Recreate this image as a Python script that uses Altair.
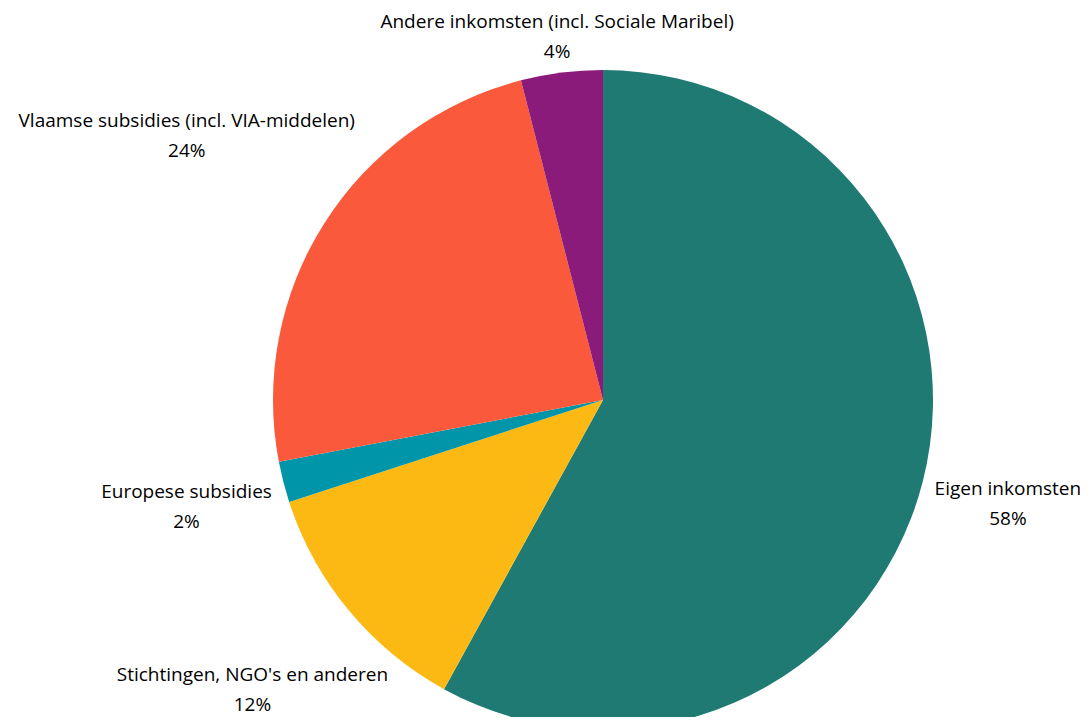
import altair as alt
import pandas as pd

categories = [
    "Eigen inkomsten",
    "Stichtingen, NGO's en anderen",
    "Europese subsidies",
    "Vlaamse subsidies (incl. VIA-middelen)",
    "Andere inkomsten (incl. Sociale Maribel)",
]
values = [58, 12, 2, 24, 4]
colors = ["#1F7A73", "#FDB913", "#0095A8", "#FA5A3B", "#8A1B7B"]

# layout: distance of each label block from the pie centre
label_radius = {
    "Eigen inkomsten": 418,
    "Stichtingen, NGO's en anderen": 455,
    "Europese subsidies": 430,
    "Vlaamse subsidies (incl. VIA-middelen)": 493,
    "Andere inkomsten (incl. Sociale Maribel)": 366,
}

df = pd.DataFrame({"cat": categories, "value": values})
df["order"] = range(len(df))
df["label"] = [f"{c}\n{v}%" for c, v in zip(categories, values)]
df["lr"] = [label_radius[c] for c in categories]

CX, CY, R = 595, 392, 330
total = sum(values)
theta_scale = alt.Scale(domain=[0, total], range=[0, 6.283185307179586])

base = alt.Chart(df).transform_window(
    end="sum(value)", sort=[alt.SortField("order")], frame=[None, 0]
).transform_calculate(
    start="datum.end - datum.value",
    mid="datum.end - datum.value / 2",
)

pie = base.mark_arc(outerRadius=R, stroke=None).encode(
    x=alt.value(CX),
    y=alt.value(CY),
    theta=alt.Theta("start:Q", scale=theta_scale),
    theta2="end:Q",
    color=alt.Color(
        "cat:N",
        scale=alt.Scale(domain=categories, range=colors),
        legend=None,
    ),
)

labels = base.mark_text(
    font="Open Sans",
    fontSize=19,
    lineBreak="\n",
    lineHeight=30,
    align="center",
    baseline="middle",
    dy=-15,
    color="#000000",
).encode(
    x=alt.value(CX),
    y=alt.value(CY),
    theta=alt.Theta("mid:Q", scale=theta_scale),
    radius=alt.Radius("lr:Q", scale=None),
    text="label:N",
)

chart = (
    alt.layer(pie, labels)
    .properties(width=1072, height=709, padding=0, autosize="none")
    .configure_view(stroke=None)
)

chart.save("out.html", embed_options={"renderer": "svg", "actions": False})
